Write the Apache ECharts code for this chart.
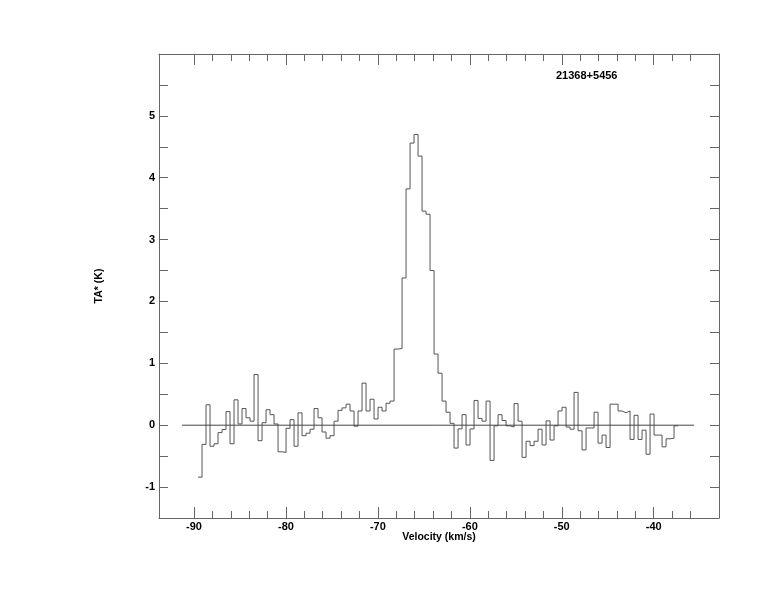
<!DOCTYPE html>
<html>
<head>
<meta charset="utf-8">
<script src="https://cdn.jsdelivr.net/npm/echarts@6/dist/echarts.min.js"></script>
<style>html,body{margin:0;padding:0;background:#fff;}#chart{width:774px;height:612px;}</style>
</head>
<body>
<div id="chart"></div>
<script>
// Spectrum: channel brightness temperatures (K), channels of equal width starting at firstChannelEdge
const firstChannelEdge = -89.565;   // km/s, left edge of first channel
const channelWidth = 0.4351;        // km/s
const antennaTemp = [
  -0.84, -0.31, 0.33, -0.34, -0.30, -0.12, -0.07, 0.22, -0.30, 0.41,
  0.02, 0.27, 0.12, 0.065, 0.82, -0.25, 0.04, 0.25, 0.17, 0.02,
  -0.43, -0.44, -0.05, 0.09, -0.34, 0.20, -0.17, -0.13, -0.065, 0.27,
  0.12, -0.11, -0.21, -0.17, 0.065, 0.24, 0.28, 0.34, 0.23, -0.016,
  0.23, 0.68, 0.23, 0.42, 0.10, 0.29, 0.23, 0.355, 0.39, 1.23,
  1.24, 2.38, 3.82, 4.56, 4.70, 4.35, 3.46, 3.41, 2.50, 1.15,
  0.84, 0.39, 0.21, 0.03, -0.37, -0.06, 0.17, -0.32, -0.06, 0.40,
  0.11, 0.065, 0.39, -0.57, -0.01, 0.17, 0.075, -0.01, -0.03, 0.35,
  0.065, -0.52, -0.26, -0.33, -0.26, -0.065, -0.32, 0.07, -0.24, -0.01,
  0.23, 0.29, -0.03, -0.065, 0.53, -0.09, -0.40, -0.045, -0.045, 0.21,
  -0.29, -0.16, -0.36, 0.34, 0.34, 0.23, 0.20, 0.23, -0.23, 0.16,
  -0.23, -0.08, -0.47, 0.18, -0.16, -0.16, -0.35, -0.22, -0.21, -0.01
];
const baselineX = [-91.3, -35.6];
const baselineY = [0, 0];

const xMajorTicks = [-90, -80, -70, -60, -50, -40];
const xMinorTicks = [-88, -86, -84, -82, -78, -76, -74, -72, -68, -66, -64, -62,
  -58, -56, -54, -52, -48, -46, -44, -42, -38, -36];
const yTicks = [-1, -0.5, 0, 0.5, 1, 1.5, 2, 2.5, 3, 3.5, 4, 4.5, 5, 5.5];
const yLabels = [-1, 0, 1, 2, 3, 4, 5];

const sourceName = '21368+5456';
const xName = 'Velocity (km/s)';
const yName = 'TA* (K)';

const X_MIN = -93.81, X_MAX = -32.9, Y_MIN = -1.5, Y_MAX = 6;

const spectrum = antennaTemp.map((v, i) => [firstChannelEdge + i * channelWidth, v]);
spectrum.push([firstChannelEdge + antennaTemp.length * channelWidth, antennaTemp[antennaTemp.length - 1]]);
const baseline = baselineX.map((x, i) => [x, baselineY[i]]);

const FONT = 'Liberation Sans, Arial, Helvetica, sans-serif';
const AXC = '#666';

function xAx(pos, ticks, len, showLine, labels, extra) {
  return Object.assign({
    type: 'value', position: pos, min: X_MIN, max: X_MAX,
    axisLine: { show: showLine, onZero: false, lineStyle: { color: AXC, width: 1 } },
    axisTick: { show: true, inside: true, length: len, customValues: ticks, lineStyle: { color: AXC, width: 1 } },
    axisLabel: labels ? { show: true, customValues: labels, color: '#000', fontWeight: 'bold', fontSize: 11, fontFamily: FONT, margin: 3 } : { show: false },
    splitLine: { show: false }
  }, extra || {});
}
function yAx(pos, labels, extra) {
  return Object.assign({
    type: 'value', position: pos, min: Y_MIN, max: Y_MAX,
    axisLine: { show: true, onZero: false, lineStyle: { color: AXC, width: 1 } },
    axisTick: { show: true, inside: true, length: 9, customValues: yTicks, lineStyle: { color: AXC, width: 1 } },
    axisLabel: labels ? { show: true, customValues: labels, color: '#000', fontWeight: 'bold', fontSize: 11, fontFamily: FONT, margin: 4 } : { show: false },
    splitLine: { show: false }
  }, extra || {});
}

const chart = echarts.init(document.getElementById('chart'), null, { renderer: 'canvas' });
chart.setOption({
  animation: false,
  backgroundColor: '#fff',
  title: {
    text: sourceName, left: 556, top: 70, padding: 0,
    textStyle: { fontSize: 11, fontWeight: 'bold', color: '#000', fontFamily: FONT }
  },
  grid: { left: 159, right: 55, top: 54, bottom: 94, containLabel: false },
  xAxis: [
    xAx('bottom', xMajorTicks, 11, true, xMajorTicks, {
      name: xName, nameLocation: 'middle', nameGap: 14, nameMoveOverlap: false,
      nameTextStyle: { fontSize: 10.5, fontWeight: 'bold', color: '#000', fontFamily: FONT }
    }),
    xAx('bottom', xMinorTicks, 7, false, null),
    xAx('top', xMajorTicks, 11, true, null),
    xAx('top', xMinorTicks, 7, false, null)
  ],
  yAxis: [
    yAx('left', yLabels, {
      name: yName, nameLocation: 'middle', nameGap: 54, nameRotate: 90, nameMoveOverlap: false,
      nameTextStyle: { fontSize: 10.5, fontWeight: 'bold', color: '#000', fontFamily: FONT }
    }),
    yAx('right', null)
  ],
  series: [
    {
      type: 'line', data: spectrum, step: 'end', symbol: 'none', xAxisIndex: 0, yAxisIndex: 0,
      lineStyle: { color: '#555', width: 1 }, silent: true
    },
    {
      type: 'line', data: baseline, symbol: 'none', xAxisIndex: 0, yAxisIndex: 0,
      lineStyle: { color: '#444', width: 1 }, silent: true
    }
  ]
});
</script>
</body>
</html>
